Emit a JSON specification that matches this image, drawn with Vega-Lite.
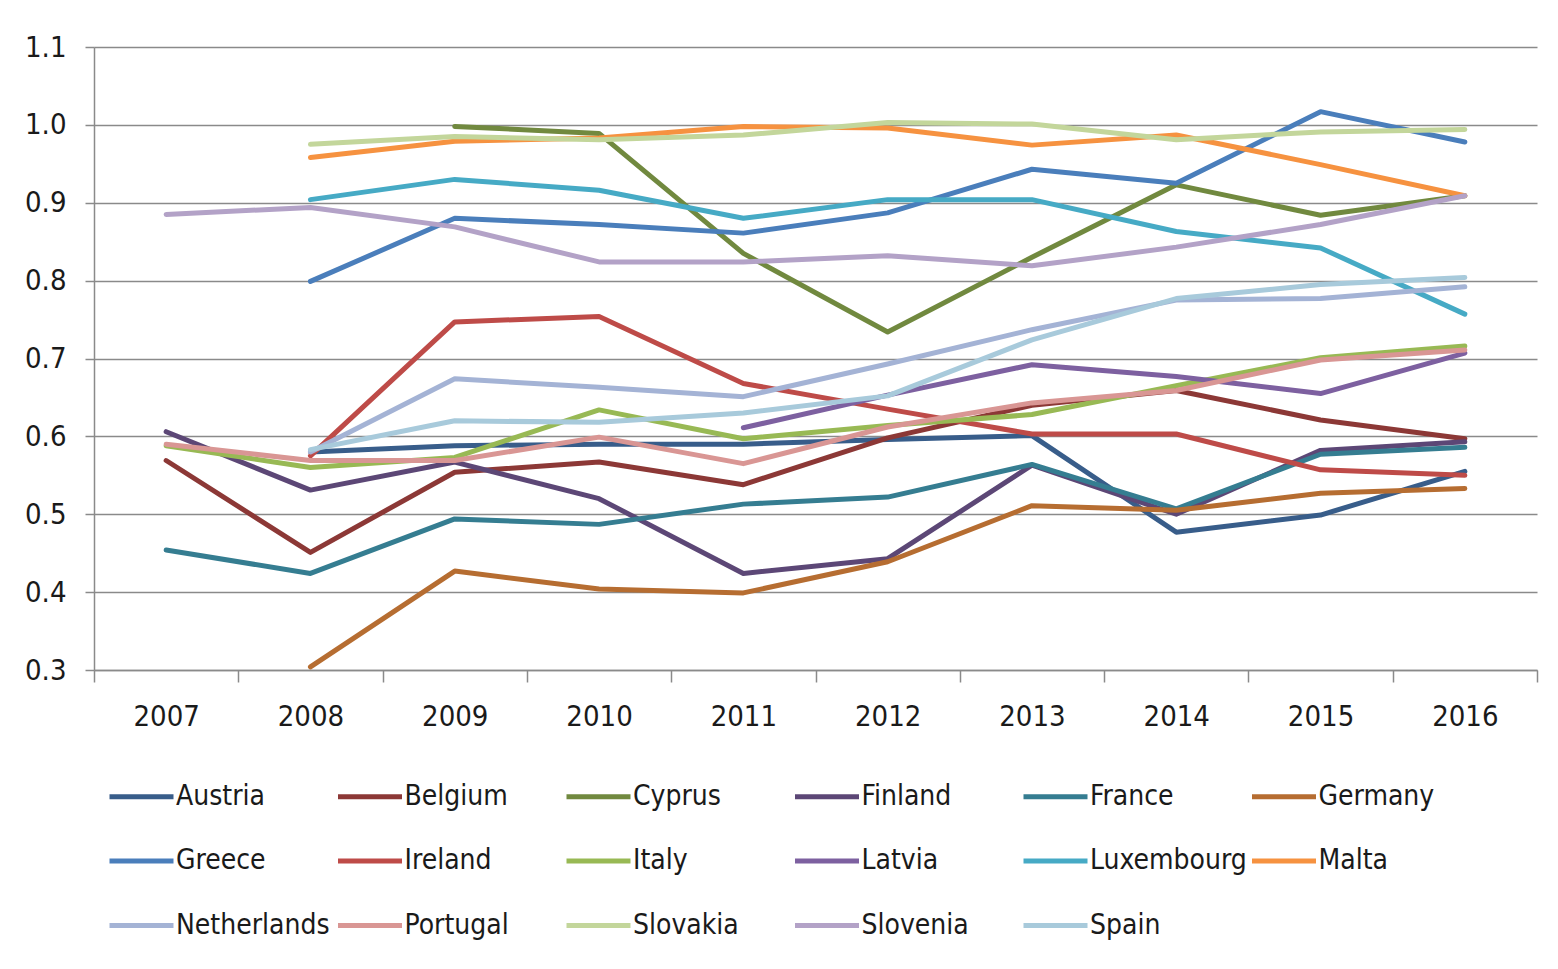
{
  "$schema": "https://vega.github.io/schema/vega-lite/v6.json",
  "width": 1443,
  "height": 623,
  "autosize": {"type": "none"},
  "padding": {"left": 94, "top": 47, "right": 21, "bottom": 299},
  "background": "white",
  "config": {
    "font": "DejaVu Sans Condensed, Liberation Sans, sans-serif",
    "view": {"stroke": null}
  },
  "data": {
    "values": [
      {"country": "Austria", "year": "2008", "value": 0.580},
      {"country": "Austria", "year": "2009", "value": 0.588},
      {"country": "Austria", "year": "2010", "value": 0.590},
      {"country": "Austria", "year": "2011", "value": 0.590},
      {"country": "Austria", "year": "2012", "value": 0.596},
      {"country": "Austria", "year": "2013", "value": 0.601},
      {"country": "Austria", "year": "2014", "value": 0.477},
      {"country": "Austria", "year": "2015", "value": 0.499},
      {"country": "Austria", "year": "2016", "value": 0.555},

      {"country": "Belgium", "year": "2007", "value": 0.569},
      {"country": "Belgium", "year": "2008", "value": 0.451},
      {"country": "Belgium", "year": "2009", "value": 0.554},
      {"country": "Belgium", "year": "2010", "value": 0.567},
      {"country": "Belgium", "year": "2011", "value": 0.538},
      {"country": "Belgium", "year": "2012", "value": 0.598},
      {"country": "Belgium", "year": "2013", "value": 0.640},
      {"country": "Belgium", "year": "2014", "value": 0.659},
      {"country": "Belgium", "year": "2015", "value": 0.621},
      {"country": "Belgium", "year": "2016", "value": 0.597},

      {"country": "Cyprus", "year": "2009", "value": 0.998},
      {"country": "Cyprus", "year": "2010", "value": 0.989},
      {"country": "Cyprus", "year": "2011", "value": 0.835},
      {"country": "Cyprus", "year": "2012", "value": 0.734},
      {"country": "Cyprus", "year": "2013", "value": 0.830},
      {"country": "Cyprus", "year": "2014", "value": 0.923},
      {"country": "Cyprus", "year": "2015", "value": 0.884},
      {"country": "Cyprus", "year": "2016", "value": 0.909},

      {"country": "Finland", "year": "2007", "value": 0.606},
      {"country": "Finland", "year": "2008", "value": 0.531},
      {"country": "Finland", "year": "2009", "value": 0.567},
      {"country": "Finland", "year": "2010", "value": 0.520},
      {"country": "Finland", "year": "2011", "value": 0.424},
      {"country": "Finland", "year": "2012", "value": 0.443},
      {"country": "Finland", "year": "2013", "value": 0.563},
      {"country": "Finland", "year": "2014", "value": 0.500},
      {"country": "Finland", "year": "2015", "value": 0.582},
      {"country": "Finland", "year": "2016", "value": 0.593},

      {"country": "France", "year": "2007", "value": 0.454},
      {"country": "France", "year": "2008", "value": 0.424},
      {"country": "France", "year": "2009", "value": 0.494},
      {"country": "France", "year": "2010", "value": 0.487},
      {"country": "France", "year": "2011", "value": 0.513},
      {"country": "France", "year": "2012", "value": 0.522},
      {"country": "France", "year": "2013", "value": 0.564},
      {"country": "France", "year": "2014", "value": 0.507},
      {"country": "France", "year": "2015", "value": 0.577},
      {"country": "France", "year": "2016", "value": 0.586},

      {"country": "Germany", "year": "2008", "value": 0.304},
      {"country": "Germany", "year": "2009", "value": 0.427},
      {"country": "Germany", "year": "2010", "value": 0.404},
      {"country": "Germany", "year": "2011", "value": 0.399},
      {"country": "Germany", "year": "2012", "value": 0.439},
      {"country": "Germany", "year": "2013", "value": 0.511},
      {"country": "Germany", "year": "2014", "value": 0.505},
      {"country": "Germany", "year": "2015", "value": 0.527},
      {"country": "Germany", "year": "2016", "value": 0.533},

      {"country": "Greece", "year": "2008", "value": 0.799},
      {"country": "Greece", "year": "2009", "value": 0.880},
      {"country": "Greece", "year": "2010", "value": 0.872},
      {"country": "Greece", "year": "2011", "value": 0.861},
      {"country": "Greece", "year": "2012", "value": 0.887},
      {"country": "Greece", "year": "2013", "value": 0.943},
      {"country": "Greece", "year": "2014", "value": 0.925},
      {"country": "Greece", "year": "2015", "value": 1.017},
      {"country": "Greece", "year": "2016", "value": 0.978},

      {"country": "Ireland", "year": "2008", "value": 0.575},
      {"country": "Ireland", "year": "2009", "value": 0.747},
      {"country": "Ireland", "year": "2010", "value": 0.754},
      {"country": "Ireland", "year": "2011", "value": 0.668},
      {"country": "Ireland", "year": "2012", "value": 0.635},
      {"country": "Ireland", "year": "2013", "value": 0.603},
      {"country": "Ireland", "year": "2014", "value": 0.603},
      {"country": "Ireland", "year": "2015", "value": 0.557},
      {"country": "Ireland", "year": "2016", "value": 0.550},

      {"country": "Italy", "year": "2007", "value": 0.588},
      {"country": "Italy", "year": "2008", "value": 0.560},
      {"country": "Italy", "year": "2009", "value": 0.573},
      {"country": "Italy", "year": "2010", "value": 0.634},
      {"country": "Italy", "year": "2011", "value": 0.597},
      {"country": "Italy", "year": "2012", "value": 0.614},
      {"country": "Italy", "year": "2013", "value": 0.628},
      {"country": "Italy", "year": "2014", "value": 0.665},
      {"country": "Italy", "year": "2015", "value": 0.701},
      {"country": "Italy", "year": "2016", "value": 0.716},

      {"country": "Latvia", "year": "2011", "value": 0.611},
      {"country": "Latvia", "year": "2012", "value": 0.653},
      {"country": "Latvia", "year": "2013", "value": 0.692},
      {"country": "Latvia", "year": "2014", "value": 0.677},
      {"country": "Latvia", "year": "2015", "value": 0.655},
      {"country": "Latvia", "year": "2016", "value": 0.707},

      {"country": "Luxembourg", "year": "2008", "value": 0.904},
      {"country": "Luxembourg", "year": "2009", "value": 0.930},
      {"country": "Luxembourg", "year": "2010", "value": 0.916},
      {"country": "Luxembourg", "year": "2011", "value": 0.880},
      {"country": "Luxembourg", "year": "2012", "value": 0.904},
      {"country": "Luxembourg", "year": "2013", "value": 0.904},
      {"country": "Luxembourg", "year": "2014", "value": 0.863},
      {"country": "Luxembourg", "year": "2015", "value": 0.842},
      {"country": "Luxembourg", "year": "2016", "value": 0.757},

      {"country": "Malta", "year": "2008", "value": 0.958},
      {"country": "Malta", "year": "2009", "value": 0.979},
      {"country": "Malta", "year": "2010", "value": 0.983},
      {"country": "Malta", "year": "2011", "value": 0.998},
      {"country": "Malta", "year": "2012", "value": 0.996},
      {"country": "Malta", "year": "2013", "value": 0.974},
      {"country": "Malta", "year": "2014", "value": 0.987},
      {"country": "Malta", "year": "2015", "value": 0.949},
      {"country": "Malta", "year": "2016", "value": 0.909},

      {"country": "Netherlands", "year": "2008", "value": 0.580},
      {"country": "Netherlands", "year": "2009", "value": 0.674},
      {"country": "Netherlands", "year": "2010", "value": 0.663},
      {"country": "Netherlands", "year": "2011", "value": 0.651},
      {"country": "Netherlands", "year": "2012", "value": 0.693},
      {"country": "Netherlands", "year": "2013", "value": 0.737},
      {"country": "Netherlands", "year": "2014", "value": 0.775},
      {"country": "Netherlands", "year": "2015", "value": 0.777},
      {"country": "Netherlands", "year": "2016", "value": 0.792},

      {"country": "Portugal", "year": "2007", "value": 0.590},
      {"country": "Portugal", "year": "2008", "value": 0.569},
      {"country": "Portugal", "year": "2009", "value": 0.569},
      {"country": "Portugal", "year": "2010", "value": 0.599},
      {"country": "Portugal", "year": "2011", "value": 0.565},
      {"country": "Portugal", "year": "2012", "value": 0.612},
      {"country": "Portugal", "year": "2013", "value": 0.643},
      {"country": "Portugal", "year": "2014", "value": 0.659},
      {"country": "Portugal", "year": "2015", "value": 0.698},
      {"country": "Portugal", "year": "2016", "value": 0.711},

      {"country": "Slovakia", "year": "2008", "value": 0.975},
      {"country": "Slovakia", "year": "2009", "value": 0.985},
      {"country": "Slovakia", "year": "2010", "value": 0.981},
      {"country": "Slovakia", "year": "2011", "value": 0.987},
      {"country": "Slovakia", "year": "2012", "value": 1.003},
      {"country": "Slovakia", "year": "2013", "value": 1.001},
      {"country": "Slovakia", "year": "2014", "value": 0.981},
      {"country": "Slovakia", "year": "2015", "value": 0.991},
      {"country": "Slovakia", "year": "2016", "value": 0.994},

      {"country": "Slovenia", "year": "2007", "value": 0.885},
      {"country": "Slovenia", "year": "2008", "value": 0.894},
      {"country": "Slovenia", "year": "2009", "value": 0.869},
      {"country": "Slovenia", "year": "2010", "value": 0.824},
      {"country": "Slovenia", "year": "2011", "value": 0.824},
      {"country": "Slovenia", "year": "2012", "value": 0.832},
      {"country": "Slovenia", "year": "2013", "value": 0.819},
      {"country": "Slovenia", "year": "2014", "value": 0.843},
      {"country": "Slovenia", "year": "2015", "value": 0.872},
      {"country": "Slovenia", "year": "2016", "value": 0.909},

      {"country": "Spain", "year": "2008", "value": 0.583},
      {"country": "Spain", "year": "2009", "value": 0.620},
      {"country": "Spain", "year": "2010", "value": 0.618},
      {"country": "Spain", "year": "2011", "value": 0.630},
      {"country": "Spain", "year": "2012", "value": 0.652},
      {"country": "Spain", "year": "2013", "value": 0.724},
      {"country": "Spain", "year": "2014", "value": 0.777},
      {"country": "Spain", "year": "2015", "value": 0.795},
      {"country": "Spain", "year": "2016", "value": 0.804}
    ]
  },
  "mark": {"type": "line", "strokeWidth": 5, "strokeCap": "round", "strokeJoin": "round"},
  "encoding": {
    "x": {
      "field": "year",
      "type": "ordinal",
      "bandPosition": 0.5,
      "scale": {"type": "band", "paddingInner": 0, "paddingOuter": 0},
      "axis": {
        "title": null,
        "tickBand": "extent",
        "grid": false,
        "domainColor": "#8a8a8a",
        "domainWidth": 1.5,
        "tickColor": "#8a8a8a",
        "tickWidth": 1.5,
        "tickSize": 12,
        "labelAngle": 0,
        "labelFontSize": 29,
        "labelColor": "#1a1a1a",
        "labelPadding": 20
      }
    },
    "y": {
      "field": "value",
      "type": "quantitative",
      "scale": {"domain": [0.3, 1.1], "nice": false, "zero": false},
      "axis": {
        "title": null,
        "values": [0.3, 0.4, 0.5, 0.6, 0.7, 0.8, 0.9, 1.0, 1.1],
        "format": ".1f",
        "grid": true,
        "gridColor": "#8a8a8a",
        "gridWidth": 1.5,
        "domainColor": "#8a8a8a",
        "domainWidth": 1.5,
        "tickColor": "#8a8a8a",
        "tickWidth": 1.5,
        "tickSize": 9,
        "labelFontSize": 29,
        "labelColor": "#1a1a1a",
        "labelPadding": 19
      }
    },
    "color": {
      "field": "country",
      "type": "nominal",
      "scale": {
        "domain": ["Austria", "Belgium", "Cyprus", "Finland", "France", "Germany", "Greece", "Ireland", "Italy", "Latvia", "Luxembourg", "Malta", "Netherlands", "Portugal", "Slovakia", "Slovenia", "Spain"],
        "range": ["#385d8a", "#8c3836", "#71893f", "#5c4776", "#357d91", "#b66d31", "#4a7ebb", "#be4b48", "#98b954", "#7d60a0", "#46aac5", "#f69240", "#a4b3d5", "#d99694", "#c3d69b", "#b3a2c7", "#a8cadb"]
      },
      "legend": {
        "title": null,
        "orient": "none",
        "legendX": 13,
        "legendY": 715,
        "direction": "horizontal",
        "columns": 6,
        "gridAlign": "all",
        "columnPadding": -5.5,
        "rowPadding": 15.5,
        "padding": 0,
        "symbolType": "stroke",
        "symbolSize": 4096,
        "symbolStrokeWidth": 5,
        "labelFontSize": 28,
        "labelColor": "#1a1a1a",
        "labelOffset": 0,
        "labelLimit": 400
      }
    }
  }
}
